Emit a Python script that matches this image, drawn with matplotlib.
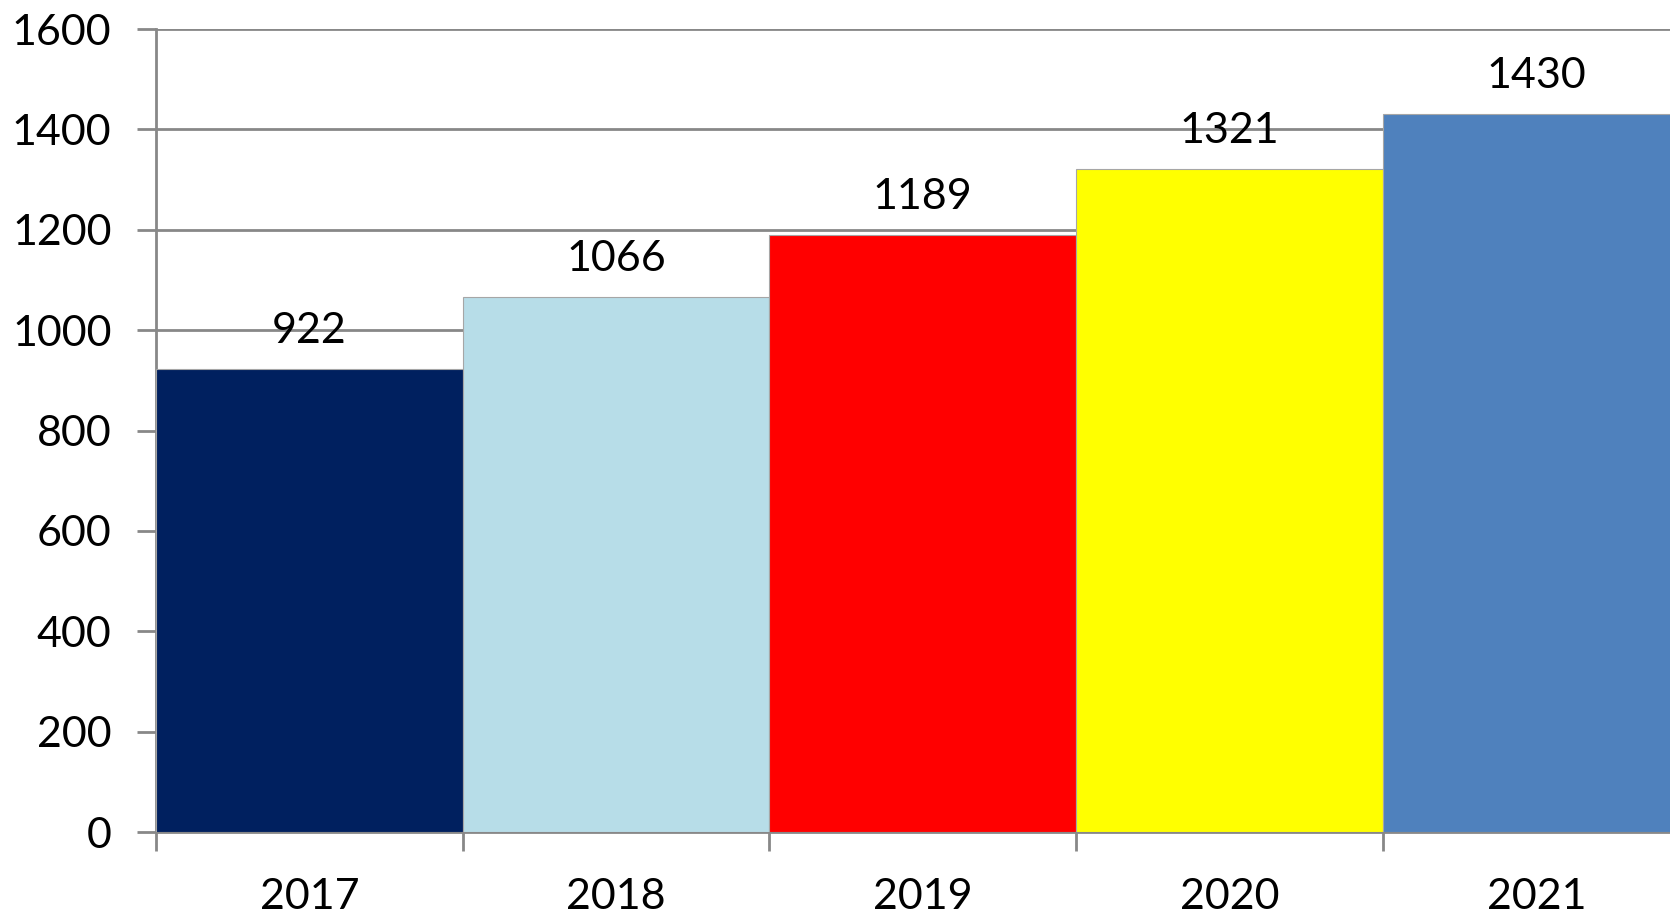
import matplotlib
matplotlib.use("Agg")
import matplotlib.pyplot as plt

years = ["2017", "2018", "2019", "2020", "2021"]
values = [922, 1066, 1189, 1321, 1430]
colors = ["#00205f", "#b7dde8", "#ff0000", "#ffff00", "#4f81bd"]

plt.rcParams['font.family'] = ['Lato', 'DejaVu Sans']

fig = plt.figure(figsize=(16.7, 9.13), dpi=100)
ax = fig.add_axes([156 / 1670, 81 / 913, 1 - 156 / 1670, (832 - 29) / 913])

x = list(range(len(years)))
ax.bar(x, values, width=1.0, color=colors, edgecolor="#a6a6a6", linewidth=0.8, zorder=3)

for xi, v in zip(x, values):
    ax.text(xi, v + 38, str(v), ha="center", va="bottom", fontsize=31, color="black")

ax.set_ylim(0, 1600)
ax.set_xlim(-0.5, 4.436)
ax.set_yticks(range(0, 1601, 200))
ax.set_xticks([i - 0.5 for i in range(len(years))])
ax.set_xticklabels([])
ax.set_xticks(x, minor=True)
ax.set_xticklabels(years, minor=True)
ax.tick_params(axis="x", which="minor", length=0, pad=33, labelsize=31)
ax.tick_params(axis="x", which="major", length=14, width=2, color="#888888")
ax.tick_params(axis="y", length=14, width=2, color="#888888", labelsize=31, pad=18)

ax.yaxis.grid(True, color="#888888", linewidth=2, zorder=0)
ax.set_axisbelow(True)
for s in ["top", "right"]:
    ax.spines[s].set_visible(False)
for s in ["left", "bottom"]:
    ax.spines[s].set_color("#888888")
    ax.spines[s].set_linewidth(2)

fig.savefig("out.png", dpi=100)
